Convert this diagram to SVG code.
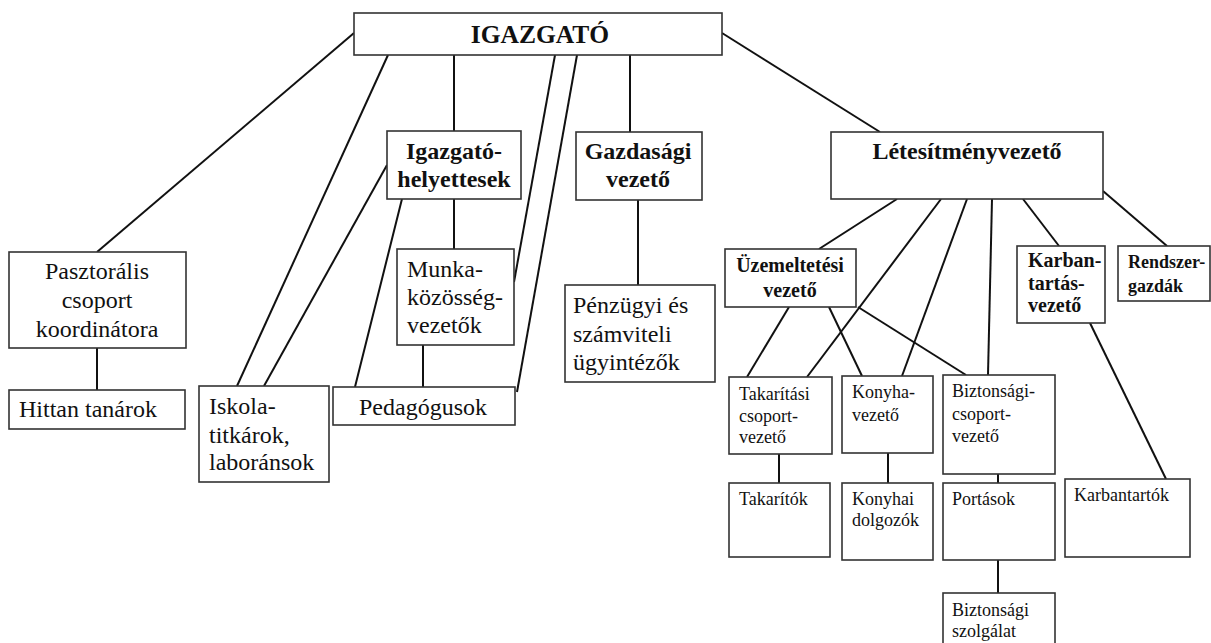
<svg xmlns="http://www.w3.org/2000/svg" width="1211" height="643" viewBox="0 0 1211 643">
<style>
.box{fill:#fff;stroke:#333;stroke-width:1.6}
.ln{stroke:#111;stroke-width:2;fill:none}
text{font-family:"Liberation Serif","Times New Roman",Times,serif;fill:#111}
.b{font-weight:bold}
.t24{font-size:24px}
.t18{font-size:18px}
.t20{font-size:20px}
.c{text-anchor:middle}
</style>
<rect width="1211" height="643" fill="#fff"/>
<g id="connectors">
<line class="ln" x1="354" y1="33" x2="97" y2="252"/>
<line class="ln" x1="388" y1="55" x2="237" y2="386"/>
<line class="ln" x1="454" y1="55" x2="454" y2="131"/>
<line class="ln" x1="555" y1="55" x2="514" y2="282"/>
<line class="ln" x1="577" y1="55" x2="517" y2="392"/>
<line class="ln" x1="630" y1="55" x2="630" y2="132"/>
<line class="ln" x1="722" y1="33" x2="880" y2="132"/>
<line class="ln" x1="454" y1="199" x2="454" y2="249"/>
<line class="ln" x1="402" y1="199" x2="355" y2="387"/>
<line class="ln" x1="387" y1="165" x2="264" y2="386"/>
<line class="ln" x1="423" y1="345" x2="423" y2="387"/>
<line class="ln" x1="638" y1="200" x2="638" y2="285"/>
<line class="ln" x1="97" y1="348" x2="97" y2="390"/>
<line class="ln" x1="897" y1="199" x2="819" y2="249"/>
<line class="ln" x1="941" y1="199" x2="807" y2="377"/>
<line class="ln" x1="967" y1="199" x2="902" y2="376"/>
<line class="ln" x1="992" y1="199" x2="988" y2="375"/>
<line class="ln" x1="1023" y1="199" x2="1059" y2="246"/>
<line class="ln" x1="1103" y1="191" x2="1167" y2="246"/>
<line class="ln" x1="789" y1="307" x2="747" y2="377"/>
<line class="ln" x1="829" y1="307" x2="862" y2="376"/>
<line class="ln" x1="858" y1="307" x2="966" y2="375"/>
<line class="ln" x1="779" y1="454" x2="779" y2="483"/>
<line class="ln" x1="888" y1="453" x2="888" y2="483"/>
<line class="ln" x1="998" y1="474" x2="998" y2="483"/>
<line class="ln" x1="998" y1="560" x2="998" y2="593"/>
<line class="ln" x1="1090" y1="323" x2="1166" y2="479"/>
</g>
<g id="igazgato"><rect class="box" x="354" y="13" width="368" height="42"/><text class="b c" x="540" y="43" font-size="25.5">IGAZGATÓ</text></g>
<g id="pasztoralis"><rect class="box" x="9" y="252" width="177" height="96"/><text class="t24 c" x="97" y="279">Pasztorális</text><text class="t24 c" x="97" y="308">csoport</text><text class="t24 c" x="97" y="337">koordinátora</text></g>
<g id="hittan"><rect class="box" x="9" y="390" width="176" height="39"/><text class="t24" x="19" y="417">Hittan tanárok</text></g>
<g id="iskola"><rect class="box" x="199" y="386" width="130" height="96"/><text class="t24" x="209" y="414">Iskola-</text><text class="t24" x="209" y="443">titkárok,</text><text class="t24" x="209" y="470">laboránsok</text></g>
<g id="helyettesek"><rect class="box" x="387" y="131" width="134" height="68"/><text class="t24 b c" x="454" y="159">Igazgató-</text><text class="t24 b c" x="454" y="187">helyettesek</text></g>
<g id="munka"><rect class="box" x="397" y="249" width="117" height="96"/><text class="t24" x="407" y="277">Munka-</text><text class="t24" x="407" y="305">közösség-</text><text class="t24" x="407" y="333">vezetők</text></g>
<g id="pedagogusok"><rect class="box" x="333" y="387" width="182" height="38"/><text class="t24 c" x="423" y="415">Pedagógusok</text></g>
<g id="gazdasagi"><rect class="box" x="576" y="132" width="126" height="68"/><text class="t24 b c" x="638" y="159">Gazdasági</text><text class="t24 b c" x="638" y="187">vezető</text></g>
<g id="penzugyi"><rect class="box" x="565" y="285" width="150" height="97"/><text class="t24" x="573" y="313">Pénzügyi és</text><text class="t24" x="573" y="342">számviteli</text><text class="t24" x="573" y="370">ügyintézők</text></g>
<g id="letesitmeny"><rect class="box" x="831" y="132" width="272" height="67"/><text class="t24 b c" x="967" y="159">Létesítményvezető</text></g>
<g id="uzemeltetesi"><rect class="box" x="725" y="249" width="131" height="58"/><text class="t20 b c" x="790" y="272">Üzemeltetési</text><text class="t20 b c" x="790" y="297">vezető</text></g>
<g id="karbantartas"><rect class="box" x="1017" y="246" width="88" height="77"/><text class="t20 b" x="1028" y="267">Karban-</text><text class="t20 b" x="1028" y="290">tartás-</text><text class="t20 b" x="1028" y="312">vezető</text></g>
<g id="rendszergazdak"><rect class="box" x="1118" y="246" width="92" height="55"/><text class="b" font-size="18" x="1128" y="268">Rendszer-</text><text class="b" font-size="18" x="1128" y="292">gazdák</text></g>
<g id="takaritasi"><rect class="box" x="729" y="377" width="103" height="77"/><text class="t18" x="739" y="400">Takarítási</text><text class="t18" x="739" y="422">csoport-</text><text class="t18" x="739" y="443">vezető</text></g>
<g id="konyhavezeto"><rect class="box" x="842" y="376" width="91" height="77"/><text class="t18" x="852" y="398">Konyha-</text><text class="t18" x="852" y="421">vezető</text></g>
<g id="biztonsagicsoport"><rect class="box" x="943" y="375" width="112" height="99"/><text class="t18" x="952" y="397">Biztonsági-</text><text class="t18" x="952" y="420">csoport-</text><text class="t18" x="952" y="442">vezető</text></g>
<g id="takaritok"><rect class="box" x="729" y="483" width="101" height="74"/><text class="t18" x="739" y="505">Takarítók</text></g>
<g id="konyhai"><rect class="box" x="842" y="483" width="91" height="77"/><text class="t18" x="852" y="505">Konyhai</text><text class="t18" x="852" y="526">dolgozók</text></g>
<g id="portasok"><rect class="box" x="943" y="483" width="112" height="77"/><text class="t18" x="952" y="505">Portások</text></g>
<g id="karbantartok"><rect class="box" x="1065" y="479" width="125" height="78"/><text class="t18" x="1074" y="501">Karbantartók</text></g>
<g id="biztonsagiszolgalat"><rect class="box" x="943" y="593" width="112" height="60"/><text class="t18" x="952" y="616">Biztonsági</text><text class="t18" x="952" y="637">szolgálat</text></g>
</svg>
